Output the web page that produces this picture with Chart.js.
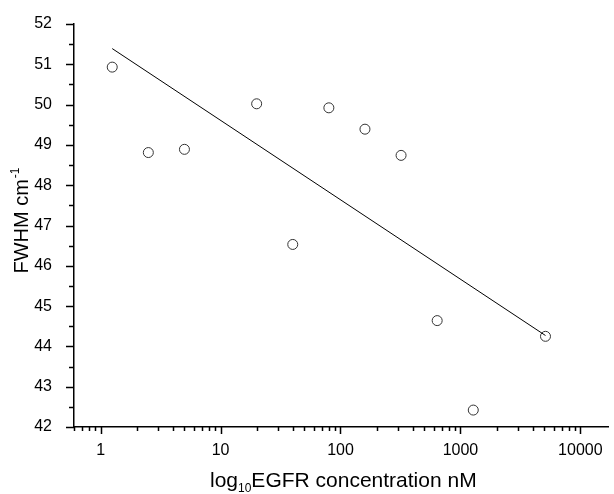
<!DOCTYPE html>
<html>
<head>
<meta charset="utf-8">
<script src="https://cdn.jsdelivr.net/npm/chart.js@4"></script>
<style>
  html, body { margin: 0; padding: 0; background: #fff; }
  #wrap { width: 614px; height: 494px; position: relative; }
</style>
</head>
<body>
<div id="wrap"><canvas id="myChart"></canvas></div>
<script>
// EGFR concentration (nM) and FWHM (cm-1)
var concentration = [1.25, 2.5, 5, 20, 40, 80, 160, 320, 640, 1280, 5120];
var fwhm = [50.93, 48.81, 48.89, 50.02, 46.53, 49.92, 49.39, 48.74, 44.64, 42.42, 44.25];

// fitted line end points
var fitX = [1.25, 5120];
var fitY = [51.39, 44.27];

var xTickLabels = [1, 10, 100, 1000, 10000];
var yMin = 42, yMax = 52;
var xMin = 0.6, xMax = 17000;

var fontName = "'Liberation Sans', Arial, sans-serif";

var pts = concentration.map(function (c, i) { return {x: c, y: fwhm[i]}; });
var fitPts = fitX.map(function (c, i) { return {x: c, y: fitY[i]}; });

// outward tick marks, long on majors, short on minors
var tickMarks = {
  id: 'tickMarks',
  afterDraw: function (chart) {
    var ctx = chart.ctx, area = chart.chartArea;
    var x = chart.scales.x, y = chart.scales.y;
    ctx.save();
    ctx.strokeStyle = '#000';
    ctx.lineWidth = 1.5;
    ctx.beginPath();
    for (var e = -1; e <= 4; e++) {
      for (var k = 1; k <= 9; k++) {
        var v = k * Math.pow(10, e);
        if (v < xMin || v > xMax) continue;
        var px = Math.round(x.getPixelForValue(v)) + 0.5;
        ctx.moveTo(px, area.bottom);
        ctx.lineTo(px, area.bottom + (k === 1 ? 7 : 4));
      }
    }
    for (var t = yMin; t <= yMax; t += 0.5) {
      var py = Math.round(y.getPixelForValue(t)) + 0.5;
      ctx.moveTo(area.left, py);
      ctx.lineTo(area.left - (t % 1 === 0 ? 8 : 5), py);
    }
    ctx.stroke();

    // axis titles with sub / superscripts
    ctx.fillStyle = '#000';
    ctx.textBaseline = 'alphabetic';
    var big = '21px ' + fontName, small = '12px ' + fontName;

    ctx.font = big;
    var w1 = ctx.measureText('log').width;
    ctx.font = small;
    var w2 = ctx.measureText('10').width;
    var sx = 210;
    var by = 487;
    ctx.font = big;
    ctx.fillText('log', sx, by);
    ctx.font = small;
    ctx.fillText('10', sx + w1, by + 5);
    ctx.font = big;
    ctx.fillText('EGFR concentration nM', sx + w1 + w2, by);

    ctx.translate(28, 221);
    ctx.rotate(-Math.PI / 2);
    ctx.font = '20px ' + fontName;
    var a = ctx.measureText('FWHM cm').width;
    ctx.font = small;
    var b = ctx.measureText('-1').width;
    var s = -(a + b) / 2;
    ctx.font = '20px ' + fontName;
    ctx.fillText('FWHM cm', s, 0);
    ctx.font = small;
    ctx.fillText('-1', s + a + 1, -9);
    ctx.restore();
  }
};

var ctx = document.getElementById('myChart').getContext('2d');
var myChart = new Chart(ctx, {
  type: 'scatter',
  data: {
    datasets: [{
      data: fitPts,
      showLine: true,
      borderColor: '#000',
      borderWidth: 1,
      pointRadius: 0,
      fill: false
    }, {
      data: pts,
      pointStyle: 'circle',
      pointRadius: 5,
      pointBorderWidth: 1,
      pointBorderColor: '#333',
      pointBackgroundColor: 'rgba(255,255,255,0)',
      showLine: false
    }]
  },
  options: {
    responsive: true,
    maintainAspectRatio: false,
    animation: false,
    layout: { padding: { top: 24, right: 0, left: 0, bottom: 0 } },
    plugins: {
      legend: { display: false },
      tooltip: { enabled: false }
    },
    scales: {
      x: {
        type: 'logarithmic',
        min: xMin,
        max: xMax,
        grid: { display: false },
        border: { display: true, color: '#000', width: 1.5 },
        afterBuildTicks: function (scale) {
          scale.ticks = xTickLabels.map(function (v) { return {value: v, major: true}; });
        },
        afterFit: function (scale) {
          scale.height = 67;
        },
        ticks: {
          color: '#000',
          padding: 6,
          maxRotation: 0,
          font: { family: fontName, size: 16 },
          callback: function (v) { return String(v); }
        }
      },
      y: {
        min: yMin,
        max: yMax,
        grid: { display: false },
        border: { display: true, color: '#000', width: 1.5 },
        afterFit: function (scale) {
          scale.width = 74;
        },
        ticks: {
          color: '#000',
          stepSize: 1,
          padding: 14,
          font: { family: fontName, size: 16 }
        }
      }
    }
  },
  plugins: [tickMarks]
});
</script>
</body>
</html>
